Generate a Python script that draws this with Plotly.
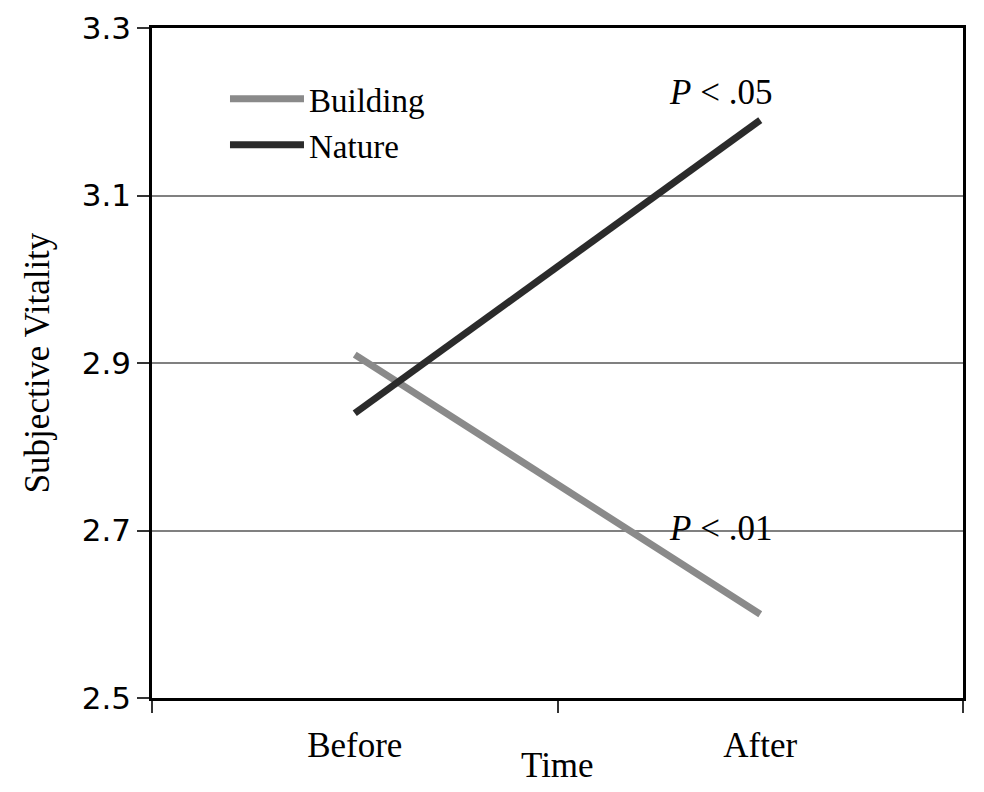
import plotly.graph_objects as go

times = ["Before", "After"]
building = [2.91, 2.60]
nature = [2.84, 3.19]
y_ticks = [2.5, 2.7, 2.9, 3.1, 3.3]
y_tick_labels = ["2.5", "2.7", "2.9", "3.1", "3.3"]

serif = "Liberation Serif, Times New Roman, serif"
sans = "DejaVu Sans, Verdana, sans-serif"

fig = go.Figure()
fig.add_trace(go.Scatter(x=times, y=building, mode="lines", name="Building",
                         line=dict(color="#8a8a8a", width=7)))
fig.add_trace(go.Scatter(x=times, y=nature, mode="lines", name="Nature",
                         line=dict(color="#2b2b2b", width=7)))

fig.add_annotation(x="After", y=nature[1], text="<i>P</i> < .05", showarrow=False,
                   xanchor="center", yanchor="bottom", yshift=6, xshift=-40,
                   font=dict(family=serif, size=35, color="black"))
fig.add_annotation(x="After", y=2.7, text="<i>P</i> < .01", showarrow=False,
                   xanchor="center", yanchor="middle", xshift=-40, yshift=2,
                   font=dict(family=serif, size=35, color="black"))
# x-axis title
fig.add_annotation(x=0.5, y=-0.1, xref="paper", yref="paper", text="Time",
                   showarrow=False, xanchor="center", yanchor="middle",
                   font=dict(family=serif, size=35, color="black"))

fig.update_layout(
    width=984, height=792,
    margin=dict(l=152, r=21, t=28, b=94),
    paper_bgcolor="white", plot_bgcolor="white",
    showlegend=True,
    legend=dict(x=0.09, y=0.936, xanchor="left", yanchor="top",
                font=dict(family=serif, size=33, color="black"),
                bgcolor="rgba(0,0,0,0)", itemwidth=74, tracegroupgap=0),
    xaxis=dict(type="category", range=[-0.5, 1.5], tickson="boundaries",
               ticks="outside", ticklen=12, tickwidth=1.5, automargin=False,
               tickcolor="#333", showline=True, linecolor="black", linewidth=2.5,
               mirror=True, showgrid=False, ticklabelstandoff=14,
               tickfont=dict(family=serif, size=35, color="black")),
    yaxis=dict(range=[2.5, 3.3], tickvals=y_ticks, ticktext=y_tick_labels,
               ticks="outside", ticklen=12, tickwidth=1.5, tickcolor="#333",
               automargin=False,
               showline=True, linecolor="black", linewidth=2.5, mirror=True,
               showgrid=True, gridcolor="#808080", gridwidth=1.5,
               zeroline=False,
               tickfont=dict(family=sans, size=31, color="black"),
               title=dict(text="Subjective Vitality",
                          font=dict(family=serif, size=35, color="black"),
                          standoff=22)),
)

fig.write_html("out.html")
